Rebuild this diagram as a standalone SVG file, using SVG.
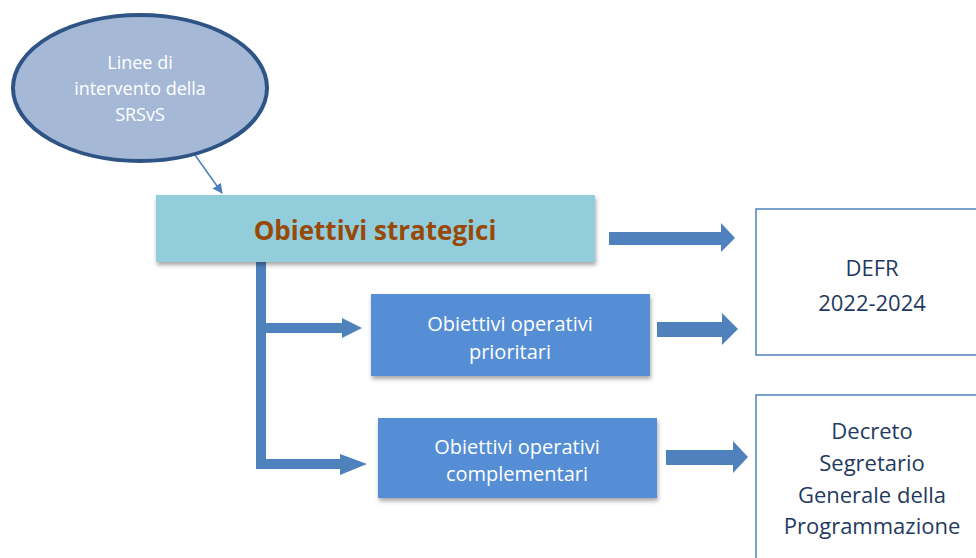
<svg xmlns="http://www.w3.org/2000/svg" width="976" height="558" viewBox="0 0 976 558">
<defs>
<style>
.t{font-family:"Open Sans","Liberation Sans",sans-serif;text-anchor:middle}
.w{fill:#ffffff}
.n{fill:#1f3a60}
.op{fill:#558ed5}
.ar{fill:#4f81bd}
.out{fill:#ffffff;stroke:#4f81bd;stroke-width:1.5}
</style>
<filter id="sh" x="-10%" y="-10%" width="130%" height="140%">
<feDropShadow dx="1" dy="3" stdDeviation="2" flood-color="#000" flood-opacity="0.35"/>
</filter>
<marker id="ah" markerWidth="10" markerHeight="10" refX="9" refY="5" orient="auto" markerUnits="userSpaceOnUse">
<path d="M0,0 L10,5 L0,10 Z" fill="#4a7ebb"/>
</marker>
</defs>
<g id="connectors">
<line x1="190" y1="148" x2="222" y2="193" stroke="#4a7ebb" stroke-width="1.5" marker-end="url(#ah)"/>
<path class="ar" d="M256,262 H266 V459 H340 V454 L367,464 L340,475 V469 H256 Z"/>
<path class="ar" d="M266,323 H342 V318 L362,328 L342,338 V333 H266 Z"/>
<path class="ar" d="M609,232 H721 V223 L735,238 L721,252 V245 H609 Z"/>
<path class="ar" d="M657,322 H722 V313 L738,329 L722,345 V337 H657 Z"/>
<path class="ar" d="M666,450 H733 V441 L748,457 L733,473 V465 H666 Z"/>
</g>
<g id="linee">
<ellipse cx="140" cy="88" rx="127" ry="73" fill="#a5b8d6" stroke="#2e5486" stroke-width="4"/>
<text class="t w" font-size="18"><tspan x="140" y="69">Linee di</tspan><tspan x="140" y="95">intervento della</tspan><tspan x="140" y="121">SRSvS</tspan></text>
</g>
<g id="strategici">
<rect x="156" y="195" width="439" height="67" fill="#92cddc" filter="url(#sh)"/>
<text class="t" x="375" y="240" font-size="26" font-weight="bold" fill="#984807">Obiettivi strategici</text>
</g>
<g id="prioritari">
<rect class="op" x="371" y="294" width="279" height="82" filter="url(#sh)"/>
<text class="t w" font-size="20"><tspan x="510" y="331">Obiettivi operativi</tspan><tspan x="510" y="359">prioritari</tspan></text>
</g>
<g id="complementari">
<rect class="op" x="378" y="418" width="279" height="80" filter="url(#sh)"/>
<text class="t w" font-size="20"><tspan x="517" y="454">Obiettivi operativi</tspan><tspan x="517" y="481">complementari</tspan></text>
</g>
<g id="defr">
<rect class="out" x="756" y="209" width="222" height="146"/>
<text class="t n" font-size="22"><tspan x="872" y="276">DEFR</tspan><tspan x="872" y="311">2022-2024</tspan></text>
</g>
<g id="decreto">
<rect class="out" x="756" y="395" width="222" height="170"/>
<text class="t n" font-size="22"><tspan x="872" y="439">Decreto</tspan><tspan x="872" y="471">Segretario</tspan><tspan x="872" y="503">Generale della</tspan><tspan x="872" y="534">Programmazione</tspan></text>
</g>
</svg>
